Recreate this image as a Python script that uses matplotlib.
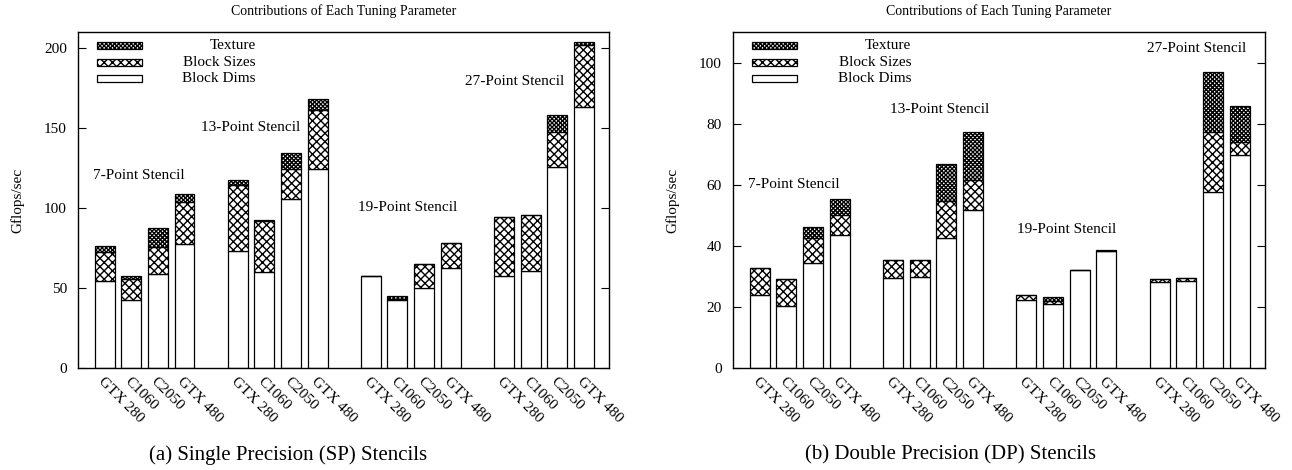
import numpy as np
import matplotlib
matplotlib.use("Agg")
import matplotlib.pyplot as plt
from matplotlib.patches import Rectangle

plt.rcParams['font.family'] = ['Liberation Serif', 'DejaVu Serif']
plt.rcParams['hatch.linewidth'] = 1.0

gpus = ["GTX 280", "C1060", "C2050", "GTX 480"]
stencils = ["7-Point Stencil", "13-Point Stencil", "19-Point Stencil", "27-Point Stencil"]

# Single precision, Gflops/sec per layer (16 bars: 4 stencils x 4 gpus)
sp_dims = [54.5, 42.8, 58.5, 77.2, 73.0, 59.7, 105.4, 124.2,
           57.6, 42.4, 50.3, 62.6, 57.6, 60.8, 125.9, 162.8]
sp_sizes = [18.1, 12.9, 17.3, 26.8, 41.6, 32.3, 19.0, 37.2,
            0.0, 1.0, 14.6, 15.3, 37.0, 34.6, 21.3, 38.9]
sp_tex = [3.6, 2.1, 11.7, 4.6, 2.7, 0.3, 9.8, 6.6,
          0.0, 1.5, 0.0, 0.4, 0.0, 0.0, 10.8, 2.1]

# Double precision
dp_dims = [23.8, 20.2, 34.5, 43.5, 29.6, 29.9, 42.6, 51.8,
           22.4, 20.8, 32.0, 38.3, 28.0, 28.4, 57.5, 69.6]
dp_sizes = [8.8, 8.8, 8.2, 6.6, 5.9, 5.6, 12.2, 9.9,
            1.6, 1.0, 0.0, 0.0, 1.1, 0.9, 19.7, 4.3]
dp_tex = [0.0, 0.0, 3.3, 5.1, 0.0, 0.0, 12.1, 15.5,
          0.0, 1.3, 0.0, 0.3, 0.0, 0.0, 19.8, 12.0]

# where the stencil names sit (bar slot, value)
sp_lab_x = [1.3, 5.5, 11.4, 15.4]
sp_lab_y = [120, 150, 100, 179]
dp_lab_x = [1.3, 6.75, 11.5, 16.4]
dp_lab_y = [60, 84.7, 45.4, 104.7]

fig = plt.figure(figsize=(12.92, 4.70), dpi=100)
ax1 = fig.add_axes([0.0604, 0.217, 0.411, 0.715])
ax2 = fig.add_axes([0.5673, 0.217, 0.4118, 0.715])

pos = np.array([g*5 + i for g in range(4) for i in range(4)])
labels = gpus*4

H_SIZES = "xxxx"
H_TEX = "xxxxxxxx"


def panel(ax, dims, sizes, tex, ymax, ystep, labx, laby):
    dims = np.array(dims)
    sizes = np.array(sizes)
    tex = np.array(tex)
    w = 0.75
    ax.bar(pos, dims, w, color="white", edgecolor="black", linewidth=0.9)
    ax.bar(pos, sizes, w, bottom=dims, color="white", edgecolor="black",
           linewidth=0.9, hatch=H_SIZES)
    ax.bar(pos, tex, w, bottom=dims+sizes, color="white", edgecolor="black",
           linewidth=0.9, hatch=H_TEX)
    ax.set_xlim(-1, 18.95)
    ax.set_ylim(0, ymax)
    ax.set_yticks(np.arange(0, ymax, ystep))
    ax.tick_params(axis="y", direction="in", length=6, labelsize=11,
                   right=True, pad=8)
    ax.set_xticks(pos)
    ax.set_xticklabels(labels, rotation=-45, ha="left", va="top",
                       rotation_mode="anchor", fontsize=11)
    ax.tick_params(axis="x", length=0, pad=5)
    for s in ax.spines.values():
        s.set_linewidth(1.0)
    ax.set_ylabel("Gflops/sec", fontsize=11, labelpad=14)
    ax.set_title("Contributions of Each Tuning Parameter", fontsize=10, pad=12)
    for k in range(4):
        ax.text(labx[k], laby[k], stencils[k], ha="center", va="center", fontsize=11)
    # legend drawn by hand, gnuplot style
    names = ["Texture", "Block Sizes", "Block Dims"]
    hatches = [H_TEX, H_SIZES, ""]
    for r in range(3):
        yy = 0.959 - r*0.049
        ax.add_patch(Rectangle((0.036, yy - 0.011), 0.084, 0.022, transform=ax.transAxes,
                               facecolor="white", edgecolor="black", linewidth=0.9,
                               hatch=hatches[r]))
        ax.text(0.335, yy, names[r], transform=ax.transAxes, ha="right",
                va="center", fontsize=11)


panel(ax1, sp_dims, sp_sizes, sp_tex, 210, 50, sp_lab_x, sp_lab_y)
panel(ax2, dp_dims, dp_sizes, dp_tex, 110, 20, dp_lab_x, dp_lab_y)

fig.text(288/1292, 1 - 455/470, "(a) Single Precision (SP) Stencils", ha="center",
         va="center", fontsize=15)
fig.text(950/1292, 1 - 455/470, "(b) Double Precision (DP) Stencils", ha="center",
         va="center", fontsize=15)

fig.savefig("out.png", dpi=100)
